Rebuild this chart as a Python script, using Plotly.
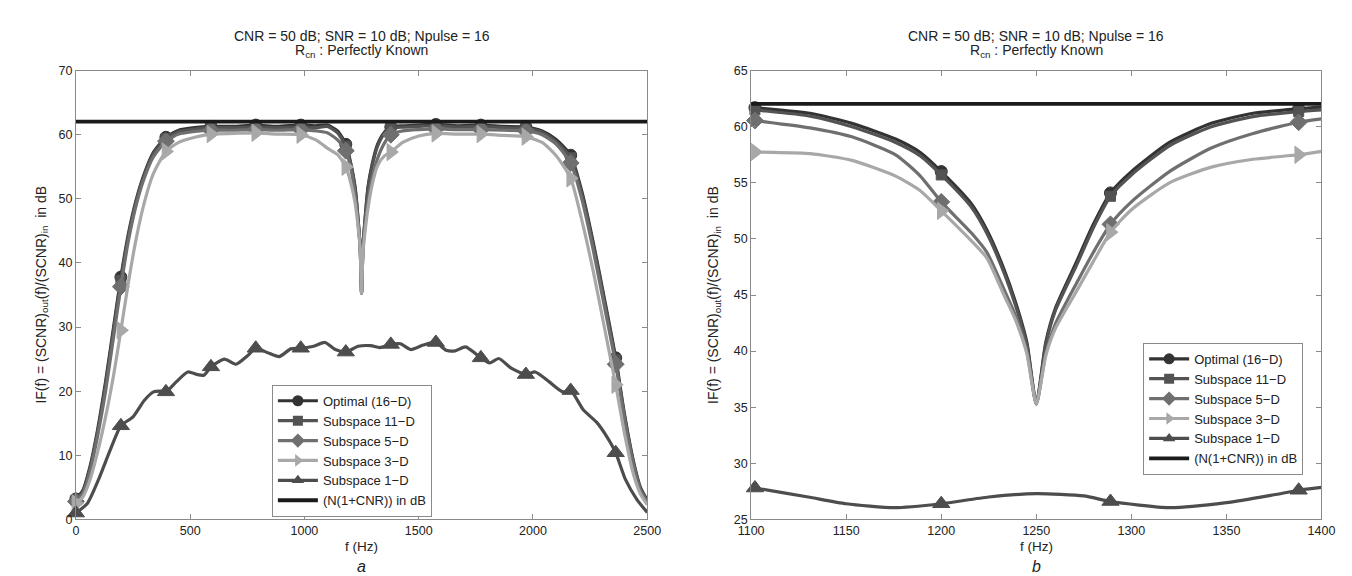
import plotly.graph_objects as go

# ---------------- Panel a: full Doppler band ----------------
f_a = [0, 30, 60, 95, 130, 165, 197, 230, 265, 300, 340, 394, 450, 520, 591, 690, 787, 880, 984,
       1050, 1100, 1145, 1181, 1205, 1222, 1236, 1244, 1250, 1256, 1264, 1278, 1295, 1320, 1350,
       1378, 1430, 1500, 1575, 1670, 1772, 1870, 1969, 2040, 2100, 2165, 2215, 2265, 2315, 2362,
       2400, 2440, 2470, 2500]
opt_a = [3.2, 4.5, 8.0, 14.0, 21.5, 30.0, 37.8, 44.6, 50.0, 54.0, 57.3, 59.6, 60.7, 61.1, 61.3, 61.3,
         61.5, 61.3, 61.5, 61.4, 61.5, 60.6, 58.5, 55.2, 51.8, 46.3, 42.5, 35.3, 42.5, 46.3, 51.8,
         55.2, 58.5, 60.4, 61.2, 61.4, 61.5, 61.6, 61.4, 61.5, 61.3, 61.2, 60.6, 59.3, 56.8, 51.0,
         43.0, 34.0, 25.2, 16.5, 9.0, 5.0, 3.0]
s11_a = [3.0, 4.3, 7.7, 13.6, 21.0, 29.5, 37.3, 44.2, 49.7, 53.8, 57.1, 59.4, 60.5, 60.9, 61.1, 61.1,
         61.2, 61.1, 61.2, 61.1, 61.3, 60.3, 58.2, 55.0, 51.5, 46.2, 42.4, 35.3, 42.4, 46.2, 51.5,
         54.9, 58.2, 60.2, 61.0, 61.2, 61.3, 61.4, 61.2, 61.3, 61.1, 61.0, 60.4, 59.0, 56.4, 50.6,
         42.6, 33.6, 24.9, 16.2, 8.8, 4.8, 2.9]
s5_a = [2.8, 4.0, 7.2, 13.0, 20.0, 28.5, 36.3, 43.5, 49.2, 53.3, 56.6, 59.0, 60.1, 60.5, 60.7, 60.7,
        60.8, 60.7, 60.8, 60.6, 60.3, 59.2, 57.5, 54.4, 50.5, 45.8, 42.3, 35.3, 42.0, 45.5, 49.5,
        53.0, 56.3, 58.7, 60.0, 60.6, 60.8, 60.9, 60.8, 60.8, 60.7, 60.6, 60.0, 58.6, 55.6, 49.8,
        41.8, 32.8, 24.2, 15.8, 8.5, 4.6, 2.7]
s3_a = [2.5, 3.5, 6.0, 10.5, 16.0, 22.5, 29.5, 37.0, 44.0, 49.5, 54.0, 57.4, 58.8, 59.6, 60.1, 60.2,
        60.3, 60.1, 60.0, 59.2, 57.9, 56.9, 55.0, 52.2, 49.3, 45.2, 42.0, 35.3, 41.5, 44.5, 48.5,
        52.0, 55.2, 56.7, 57.3, 58.8, 59.8, 60.2, 60.1, 60.1, 59.9, 59.7, 58.8, 56.8, 53.2, 46.5,
        38.5, 29.5, 21.0, 13.5, 7.0, 4.0, 2.3]
f1_a = [0, 50, 100, 150, 197, 250, 300, 340, 370, 394, 440, 490, 530, 560, 591, 650, 700, 750, 787,
        840, 890, 940, 984, 1040, 1090, 1135, 1181, 1235, 1290, 1330, 1378, 1420, 1465, 1520, 1575,
        1620, 1660, 1705, 1772, 1810, 1850, 1905, 1969, 2010, 2070, 2130, 2165, 2220, 2280, 2325,
        2362, 2405, 2455, 2500]
s1_a = [1.0, 2.5, 6.3, 10.8, 14.6, 16.0, 18.6, 19.9, 20.0, 19.9, 21.5, 23.0, 22.6, 22.5, 23.8, 25.0,
        24.2, 25.5, 26.7, 26.0, 25.4, 26.6, 26.7, 27.0, 27.6, 26.5, 26.1, 27.0, 27.1, 26.8, 27.3,
        27.4, 26.5, 27.2, 27.6, 26.4, 26.3, 26.9, 25.2, 24.4, 25.1, 23.6, 22.6, 23.0, 21.5, 19.9,
        20.1, 17.1, 15.1, 12.8, 10.4, 6.2, 3.1, 1.1]
mk_a = [0, 197, 394, 591, 787, 984, 1181, 1378, 1575, 1772, 1969, 2165, 2362]
ncnr_f_a = [0, 2500]
ncnr_a = [62.04, 62.04]

# ---------------- Panel b: zoom around the clutter notch ----------------
f_b = [1100, 1102, 1131, 1153, 1176, 1189, 1200, 1216, 1224, 1233, 1239, 1245, 1250, 1255, 1260,
       1271, 1280, 1289, 1300, 1320, 1342, 1364, 1388, 1400]
opt_b = [61.75, 61.7, 61.2, 60.3, 58.9, 57.7, 56.0, 53.1, 50.8, 47.3, 44.4, 40.8, 35.3, 40.8, 43.8,
         47.9, 51.3, 54.1, 56.0, 58.6, 60.3, 61.2, 61.6, 61.75]
s11_b = [61.55, 61.5, 60.95, 60.0, 58.6, 57.4, 55.7, 52.8, 50.5, 47.0, 44.1, 40.6, 35.3, 40.6, 43.6,
         47.6, 51.0, 53.8, 55.7, 58.3, 60.0, 60.9, 61.35, 61.5]
s5_b = [60.6, 60.55, 59.9, 59.1, 57.5, 55.6, 53.3, 50.5, 48.8, 45.5, 43.2, 40.0, 35.3, 39.8, 42.4,
        46.0, 48.8, 51.3, 53.3, 56.0, 58.1, 59.4, 60.4, 60.7]
s3_b = [57.8, 57.75, 57.6, 57.0, 55.6, 54.3, 52.5, 49.8, 48.3, 45.0, 42.8, 39.8, 35.3, 39.6, 42.0,
        45.3, 48.0, 50.6, 52.6, 55.0, 56.4, 57.1, 57.5, 57.8]
f1_b = [1100, 1102, 1130, 1150, 1175, 1200, 1225, 1250, 1275, 1289, 1320, 1350, 1375, 1388, 1400]
s1_b = [27.85, 27.8, 27.0, 26.4, 26.05, 26.4, 27.0, 27.3, 27.1, 26.6, 26.05, 26.5, 27.2, 27.6, 27.85]
mk_b = [1102, 1200, 1289, 1388]
ncnr_f_b = [1100, 1400]
ncnr_b = [62.04, 62.04]

names = ["Optimal (16\u2212D)", "Subspace 11\u2212D", "Subspace 5\u2212D",
         "Subspace 3\u2212D", "Subspace 1\u2212D", "(N(1+CNR)) in dB"]

# ---------------- styles ----------------
FONT = "Liberation Sans, Arial, Helvetica, sans-serif"
styles = [
    dict(color="#333333", symbol="circle", size=12),
    dict(color="#535353", symbol="square", size=10),
    dict(color="#6f6f6f", symbol="diamond", size=13),
    dict(color="#a8a8a8", symbol="triangle-right", size=15),
    dict(color="#4d4d4d", symbol="triangle-up", size=15),
]
N_COLOR = "#1a1a1a"
W = 1352
H = 576

fig = go.Figure()


def add_series(fx, fy, mk, st, xa, ya):
    fig.add_trace(go.Scatter(
        x=fx, y=fy, mode="lines", xaxis=xa, yaxis=ya, showlegend=False, hoverinfo="skip",
        line=dict(color=st["color"], width=3.2, shape="spline", smoothing=0.6)))
    idx = [fx.index(m) for m in mk]
    fig.add_trace(go.Scatter(
        x=[fx[i] for i in idx], y=[fy[i] for i in idx], mode="markers", xaxis=xa, yaxis=ya,
        showlegend=False, cliponaxis=False, hoverinfo="skip",
        marker=dict(symbol=st["symbol"], size=st["size"], color=st["color"],
                    line=dict(color=st["color"], width=1))))


panels = [
    ("x", "y", "legend", [(f_a, opt_a), (f_a, s11_a), (f_a, s5_a), (f_a, s3_a), (f1_a, s1_a)], mk_a,
     ncnr_f_a, ncnr_a),
    ("x2", "y2", "legend2", [(f_b, opt_b), (f_b, s11_b), (f_b, s5_b), (f_b, s3_b), (f1_b, s1_b)], mk_b,
     ncnr_f_b, ncnr_b),
]

for xa, ya, lg, series, mk, nf, nv in panels:
    for (fx, fy), st in zip(series, styles):
        add_series(fx, fy, mk, st, xa, ya)
    fig.add_trace(go.Scatter(x=nf, y=nv, mode="lines", xaxis=xa, yaxis=ya, showlegend=False,
                             hoverinfo="skip", line=dict(color=N_COLOR, width=3.8)))
    # legend entries
    for name, st in zip(names[:5], styles):
        fig.add_trace(go.Scatter(
            x=[None], y=[None], mode="lines+markers", name=name, legend=lg, xaxis=xa, yaxis=ya,
            line=dict(color=st["color"], width=3.2),
            marker=dict(symbol=st["symbol"], size=min(st["size"], 11), color=st["color"])))
    fig.add_trace(go.Scatter(x=[None], y=[None], mode="lines", name=names[5], legend=lg,
                             xaxis=xa, yaxis=ya, line=dict(color=N_COLOR, width=3.8)))

# ---------------- layout ----------------
ydom = [(H - 517) / H, (H - 57) / H]
axis_common = dict(showline=True, mirror="ticks", linecolor="#8a8a8a", linewidth=1,
                   ticks="inside", ticklen=5, tickcolor="#8a8a8a", showgrid=False,
                   zeroline=False, tickfont=dict(family=FONT, size=12.5, color="#222222"))

legend_common = dict(xanchor="left", yanchor="top", bgcolor="white", bordercolor="#8a8a8a",
                     borderwidth=1, font=dict(family=FONT, size=13, color="#222222"),
                     itemwidth=40, tracegroupgap=0)

fig.update_layout(
    width=W, height=H, margin=dict(l=0, r=0, t=0, b=0),
    paper_bgcolor="white", plot_bgcolor="white",
    font=dict(family=FONT, color="#222222"),
    xaxis=dict(domain=[56 / W, 639 / W], range=[0, 2500], tickvals=[0, 500, 1000, 1500, 2000, 2500],
               anchor="y", **axis_common),
    yaxis=dict(domain=ydom, range=[0, 70], tickvals=[0, 10, 20, 30, 40, 50, 60, 70],
               anchor="x", **axis_common),
    xaxis2=dict(domain=[745 / W, 1327 / W], range=[1100, 1400],
                tickvals=[1100, 1150, 1200, 1250, 1300, 1350, 1400], anchor="y2", **axis_common),
    yaxis2=dict(domain=ydom, range=[25, 65], tickvals=[25, 30, 35, 40, 45, 50, 55, 60, 65],
                anchor="x2", **axis_common),
    legend=dict(x=256 / W, y=(H - 379) / H, **legend_common),
    legend2=dict(x=1145 / W, y=(H - 336) / H, **legend_common),
    showlegend=True,
)

ann = []
for cx, letter, ylab_x in [(347.5, "a", 21), (1036, "b", 707)]:
    ann.append(dict(text="CNR = 50 dB; SNR = 10 dB; Npulse = 16", x=cx / W, y=(H - 21.5) / H,
                    xref="paper", yref="paper", showarrow=False, xanchor="center", yanchor="middle",
                    font=dict(family=FONT, size=14, color="#222222")))
    ann.append(dict(text="R<sub>cn</sub> : Perfectly Known", x=cx / W, y=(H - 37) / H,
                    xref="paper", yref="paper", showarrow=False, xanchor="center", yanchor="middle",
                    font=dict(family=FONT, size=14, color="#222222")))
    ann.append(dict(text="f (Hz)", x=cx / W, y=(H - 545) / H, xref="paper", yref="paper",
                    showarrow=False, xanchor="center", yanchor="middle",
                    font=dict(family=FONT, size=13.5, color="#222222")))
    ann.append(dict(text="<i>" + letter + "</i>", x=cx / W, y=0, xref="paper",
                    yref="paper", showarrow=False, xanchor="center", yanchor="bottom",
                    font=dict(family=FONT, size=16, color="#222222")))
    ann.append(dict(text="IF(f) = (SCNR)<sub>out</sub>(f)/(SCNR)<sub>in</sub>\u00a0\u00a0in dB",
                    x=ylab_x / W, y=(H - 287) / H, xref="paper", yref="paper", showarrow=False,
                    xanchor="center", yanchor="middle", textangle=-90,
                    font=dict(family=FONT, size=14, color="#222222")))
fig.update_layout(annotations=ann)

fig.write_html("out.html")
